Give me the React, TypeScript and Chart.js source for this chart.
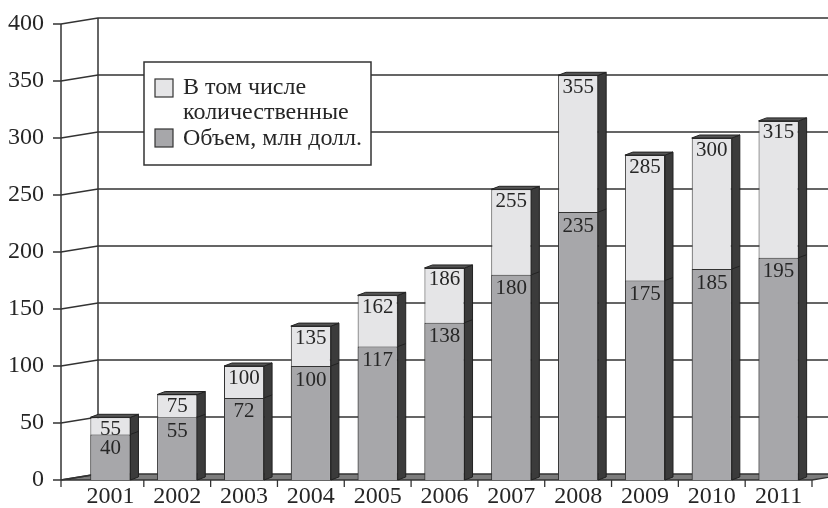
import React, { useEffect, useRef } from "react";
import { Chart, registerables } from "chart.js";

Chart.register(...registerables);

const years = ["2001", "2002", "2003", "2004", "2005", "2006", "2007", "2008", "2009", "2010", "2011"];
const quantityTotals = [55, 75, 100, 135, 162, 186, 255, 355, 285, 300, 315];
const volumeValues = [40, 55, 72, 100, 117, 138, 180, 235, 175, 185, 195];
const yMin = 0;
const yMax = 400;
const yStep = 50;
const quantityLegend = ["В том числе", "количественные"];
const volumeLegend = ["Объем, млн долл."];

const LIGHT = "#e5e5e7";
const DARK = "#a7a7aa";
const SIDE = "#3b3b3b";
const TOPFACE = "#555555";
const FLOOR = "#7c7c7c";
const LINE = "#333333";
const TEXT = "#262626";
const FONT = "'Liberation Serif', 'Times New Roman', serif";

const AXIS_GAP = 16;
const DEPTH_X = 37;
const DEPTH_Y = -6;
const BAR_DX = 8;
const BAR_DY = -3;

const threeD = {
  id: "threeD",
  beforeDatasetsDraw(chart: any) {
    const { ctx, chartArea, scales } = chart;
    const ys = scales.y;
    const xs = scales.x;
    const fx = chartArea.left - AXIS_GAP;
    const bx = fx + DEPTH_X;
    const y0 = ys.getPixelForValue(yMin);
    const yTop = ys.getPixelForValue(yMax);
    const right = chartArea.right;
    const W = chart.width;
    ctx.save();
    ctx.lineCap = "butt";
    // floor
    ctx.beginPath();
    ctx.moveTo(fx, y0);
    ctx.lineTo(right, y0);
    ctx.lineTo(right + DEPTH_X, y0 + DEPTH_Y);
    ctx.lineTo(bx, y0 + DEPTH_Y);
    ctx.closePath();
    ctx.fillStyle = FLOOR;
    ctx.fill();
    ctx.strokeStyle = LINE;
    ctx.lineWidth = 1.3;
    ctx.stroke();
    // gridlines + slanted side-wall lines + y tick marks
    ctx.lineWidth = 1.5;
    ys.ticks.forEach((t: any) => {
      const py = ys.getPixelForValue(t.value);
      ctx.beginPath();
      ctx.moveTo(fx - 8, py);
      ctx.lineTo(fx, py);
      ctx.lineTo(bx, py + DEPTH_Y);
      if (t.value !== yMin) ctx.lineTo(W, py + DEPTH_Y);
      ctx.stroke();
    });
    // back wall edge
    ctx.beginPath();
    ctx.moveTo(bx, yTop + DEPTH_Y);
    ctx.lineTo(bx, y0 + DEPTH_Y);
    ctx.stroke();
    // front axis
    ctx.beginPath();
    ctx.moveTo(fx, yTop);
    ctx.lineTo(fx, y0);
    ctx.stroke();
    // x tick marks
    const n = years.length;
    const band = (chartArea.right - chartArea.left) / n;
    const marks = [fx];
    for (let i = 0; i < n; i++) marks.push(xs.getPixelForValue(i) + band / 2);
    ctx.lineWidth = 1.3;
    marks.forEach((mx) => {
      ctx.beginPath();
      ctx.moveTo(mx, y0);
      ctx.lineTo(mx, y0 + 7);
      ctx.stroke();
    });
    ctx.restore();
  },
  afterDatasetsDraw(chart: any) {
    const { ctx } = chart;
    const metaVol = chart.getDatasetMeta(0);
    const metaTot = chart.getDatasetMeta(1);
    ctx.save();
    ctx.strokeStyle = "#222222";
    ctx.lineWidth = 1;
    metaTot.data.forEach((el: any, i: number) => {
      const p = el.getProps(["x", "y", "base", "width"], true);
      const l = p.x - p.width / 2;
      const r = p.x + p.width / 2;
      // side face
      ctx.beginPath();
      ctx.moveTo(r, p.y);
      ctx.lineTo(r + BAR_DX, p.y + BAR_DY);
      ctx.lineTo(r + BAR_DX, p.base + BAR_DY);
      ctx.lineTo(r, p.base);
      ctx.closePath();
      ctx.fillStyle = SIDE;
      ctx.fill();
      ctx.stroke();
      // top face
      ctx.beginPath();
      ctx.moveTo(l, p.y);
      ctx.lineTo(l + BAR_DX, p.y + BAR_DY);
      ctx.lineTo(r + BAR_DX, p.y + BAR_DY);
      ctx.lineTo(r, p.y);
      ctx.closePath();
      ctx.fillStyle = TOPFACE;
      ctx.fill();
      ctx.stroke();
      // boundary line on side
      const v = metaVol.data[i].getProps(["y"], true);
      ctx.beginPath();
      ctx.moveTo(r, v.y);
      ctx.lineTo(r + BAR_DX, v.y + BAR_DY);
      ctx.stroke();
      // labels
      ctx.fillStyle = TEXT;
      ctx.font = "21px " + FONT;
      ctx.textAlign = "center";
      ctx.textBaseline = "middle";
      ctx.fillText(String(quantityTotals[i]), p.x, p.y + 12);
      ctx.fillText(String(volumeValues[i]), p.x, v.y + 14);
    });
    ctx.restore();
  },
  afterDraw(chart: any) {
    const { ctx } = chart;
    ctx.save();
    const bx = 144, by = 62, bw = 227, bh = 103;
    ctx.fillStyle = "#ffffff";
    ctx.fillRect(bx, by, bw, bh);
    ctx.strokeStyle = LINE;
    ctx.lineWidth = 1.5;
    ctx.strokeRect(bx, by, bw, bh);
    ctx.lineWidth = 1.2;
    ctx.fillStyle = LIGHT;
    ctx.fillRect(155, 79, 18, 18);
    ctx.strokeRect(155, 79, 18, 18);
    ctx.fillStyle = DARK;
    ctx.fillRect(155, 129, 18, 18);
    ctx.strokeRect(155, 129, 18, 18);
    ctx.fillStyle = TEXT;
    ctx.font = "24px " + FONT;
    ctx.textAlign = "left";
    ctx.textBaseline = "middle";
    quantityLegend.forEach((s, k) => ctx.fillText(s, 183, 88 + k * 25));
    volumeLegend.forEach((s, k) => ctx.fillText(s, 183, 139 + k * 25));
    ctx.restore();
  },
};

export default function App() {
  const ref = useRef<HTMLCanvasElement | null>(null);
  useEffect(() => {
    if (!ref.current) return;
    const chart = new Chart(ref.current, {
      type: "bar",
      data: {
        labels: years,
        datasets: [
          {
            label: volumeLegend.join(" "),
            data: volumeValues,
            backgroundColor: DARK,
            borderColor: LINE,
            borderWidth: 1,
            barPercentage: 0.6,
            categoryPercentage: 1,
            grouped: false,
            order: 0,
          } as any,
          {
            label: quantityLegend.join(" "),
            data: quantityTotals,
            backgroundColor: LIGHT,
            borderColor: LINE,
            borderWidth: 1,
            barPercentage: 0.6,
            categoryPercentage: 1,
            grouped: false,
            order: 1,
          } as any,
        ],
      },
      options: {
        responsive: false,
        animation: false,
        events: [],
        layout: { padding: { top: 24, right: 16, left: 0, bottom: -12 } },
        plugins: { legend: { display: false }, tooltip: { enabled: false } },
        scales: {
          x: {
            grid: { display: false, drawTicks: false },
            border: { display: false },
            ticks: { color: TEXT, font: { family: FONT, size: 24 }, padding: 2.6, maxRotation: 0 },
            afterFit: (s: any) => {
              s.height = 40;
            },
          },
          y: {
            min: yMin,
            max: yMax,
            grid: { display: false, drawTicks: true, tickLength: 25 },
            border: { display: false },
            ticks: { stepSize: yStep, color: TEXT, font: { family: FONT, size: 24 }, padding: 8 },
            afterFit: (s: any) => {
              s.width = 77;
            },
          },
        },
      },
      plugins: [threeD],
    });
    return () => chart.destroy();
  }, []);
  return (
    <div style={{ position: "absolute", left: 0, top: 0, width: 828, height: 508, background: "#fff" }}>
      <canvas ref={ref} width={828} height={508} style={{ display: "block" }} />
    </div>
  );
}
